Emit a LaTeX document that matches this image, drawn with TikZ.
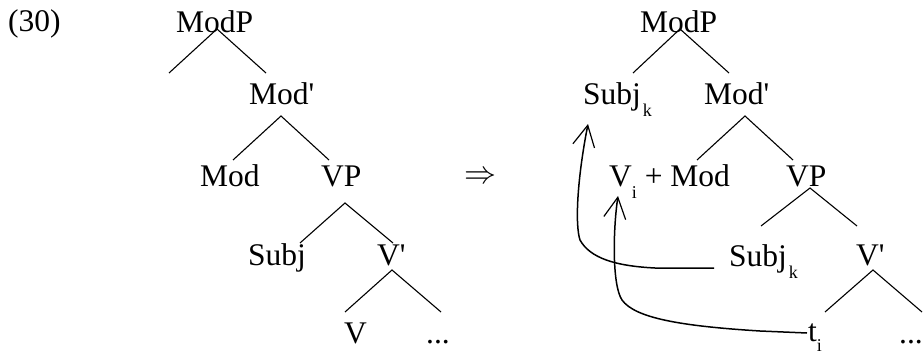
\documentclass[tikz,border=0pt]{standalone}
\usepackage{fontspec}
\setmainfont{Liberation Serif}
\newfontfamily\primefont{Liberation Serif}[Ligatures=TeXOff]
\usetikzlibrary{arrows.meta}
\newcommand{\sbk}[2][-12pt]{\raisebox{#1}{\fontsize{18}{18}\selectfont #2}}
\newcommand{\pr}{{\primefont\symbol{"27}}}
\begin{document}
\begin{tikzpicture}[x=1pt,y=1pt,
  lbl/.style={inner sep=0pt, anchor=base west, font=\fontsize{31.5}{36}\selectfont},
  branch/.style={line width=1.1pt},
  move/.style={line width=1.5pt, -{Straight Barb[length=21pt,width=22pt,line width=1.2pt]}}]
\useasboundingbox (0,0) rectangle (924,-356);
% left tree
\node[lbl] (num) at (8,-31) {(30)};
\node[lbl] (lModP) at (176,-32) {ModP};
\node[lbl] (lModb) at (249,-104) {Mod\pr};
\node[lbl] (lMod) at (200,-186) {Mod};
\node[lbl] (lVP) at (321,-186) {VP};
\node[lbl] (lSubj) at (248,-265) {Subj};
\node[lbl] (lVb) at (377,-265) {V\pr};
\node[lbl] (lV) at (344,-343) {V};
\node[lbl] (ldots) at (426,-343) {...};
\coordinate (la1) at (217,-29); \coordinate (la1l) at (169,-73); \coordinate (la1r) at (266,-73);
\coordinate (la2) at (281,-116); \coordinate (la2l) at (233,-160); \coordinate (la2r) at (329,-160);
\coordinate (la3) at (345,-203); \coordinate (la3l) at (300,-243); \coordinate (la3r) at (393,-243);
\coordinate (la4) at (392,-270); \coordinate (la4l) at (345,-312); \coordinate (la4r) at (441,-312);
\draw[branch] (la1l) -- (la1) -- (la1r);
\draw[branch] (la2l) -- (la2) -- (la2r);
\draw[branch] (la3l) -- (la3) -- (la3r);
\draw[branch] (la4l) -- (la4) -- (la4r);
% transformation arrow
\node[inner sep=0pt] (imp) at (480,-178) {\resizebox{32pt}{!}{$\Rightarrow$}};
% right tree
\node[lbl] (rModP) at (640,-32) {ModP};
\node[lbl] (rSubjk) at (583,-104) {Subj\hspace{2pt}\sbk{k}};
\node[lbl] (rModb) at (704,-104) {Mod\pr};
\node[lbl] (rVMod) at (609,-186) {V\sbk{i} + Mod};
\node[lbl] (rVP) at (786,-186) {VP};
\node[lbl] (rSubjt) at (729,-266) {Subj\hspace{2pt}\sbk{k}};
\node[lbl] (rVb) at (856,-265) {V\pr};
\node[lbl] (rt) at (808,-341) {t\sbk[-10pt]{i}};
\node[lbl] (rdots) at (899,-343) {...};
\coordinate (ra1) at (680,-29); \coordinate (ra1l) at (633,-73); \coordinate (ra1r) at (729,-73);
\coordinate (ra2) at (745,-116); \coordinate (ra2l) at (697,-160); \coordinate (ra2r) at (793,-160);
\coordinate (ra3) at (810,-188); \coordinate (ra3l) at (761,-226); \coordinate (ra3r) at (857,-226);
\coordinate (ra4) at (873,-270); \coordinate (ra4l) at (825,-312); \coordinate (ra4r) at (922,-312);
\draw[branch] (ra1l) -- (ra1) -- (ra1r);
\draw[branch] (ra2l) -- (ra2) -- (ra2r);
\draw[branch] (ra3l) -- (ra3) -- (ra3r);
\draw[branch] (ra4l) -- (ra4) -- (ra4r);
% movement arrows
\coordinate (m1s) at (714,-268); \coordinate (m1e) at (588,-124);
\coordinate (m2s) at (807,-333); \coordinate (m2e) at (618,-196);
\draw[move] (m1s) -- (655,-268) .. controls (615,-266) and (590,-258) .. (580,-240)
  .. controls (575,-225) and (577,-180) .. (m1e);
\draw[move] (m2s) -- (760,-331) .. controls (680,-326) and (635,-318) .. (622,-300)
  .. controls (612,-285) and (613,-230) .. (m2e);
\end{tikzpicture}
\end{document}
